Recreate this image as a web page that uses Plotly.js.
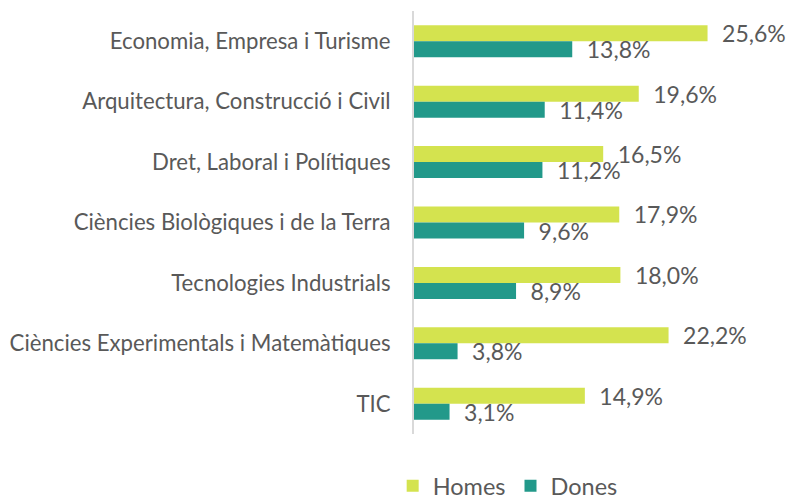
<!DOCTYPE html>
<html>
<head>
<meta charset="utf-8">
<script src="https://cdn.plot.ly/plotly-3.0.1.min.js"></script>
<style>html,body{margin:0;padding:0;background:#fff;}#chart{width:787px;height:499px;}</style>
</head>
<body>
<div id="chart"></div>
<script>
var categories = [
  "Economia, Empresa i Turisme",
  "Arquitectura, Construcció i Civil",
  "Dret, Laboral i Polítiques",
  "Ciències Biològiques i de la Terra",
  "Tecnologies Industrials",
  "Ciències Experimentals i Matemàtiques",
  "TIC"
];
var homes = [25.6, 19.6, 16.5, 17.9, 18.0, 22.2, 14.9];
var dones = [13.8, 11.4, 11.2, 9.6, 8.9, 3.8, 3.1];
var seriesNames = ["Homes", "Dones"];

var FONT = "Lato, 'Open Sans', sans-serif";
var TXT = "#595959";

var common = {
  type: "bar",
  orientation: "h",
  y: categories,
  textposition: "outside",
  texttemplate: "\u2002%{x:.1f}%",
  textfont: {family: FONT, size: 23, color: TXT},
  cliponaxis: false,
  constraintext: "none",
  hoverinfo: "none"
};

var traces = [
  Object.assign({}, common, {x: homes, name: seriesNames[0], marker: {color: "#d4e34f"}}),
  Object.assign({}, common, {x: dones, name: seriesNames[1], marker: {color: "#22998a"}})
];

var layout = {
  width: 787,
  height: 499,
  margin: {l: 414, r: 29, t: 11, b: 65, pad: 0, autoexpand: false},
  paper_bgcolor: "#ffffff",
  plot_bgcolor: "#ffffff",
  separators: ",.",
  barmode: "group",
  bargap: 0.47,
  bargroupgap: 0,
  showlegend: true,
  font: {family: FONT, color: TXT, size: 20},
  xaxis: {
    range: [0, 30],
    visible: false,
    fixedrange: true
  },
  yaxis: {
    autorange: "reversed",
    showline: true,
    linecolor: "#d9d9d9",
    linewidth: 2,
    showgrid: false,
    zeroline: false,
    ticks: "",
    ticklabelstandoff: 17,
    tickfont: {family: FONT, size: 22.2, color: TXT},
    fixedrange: true
  },
  legend: {
    orientation: "h",
    x: -0.062,
    xanchor: "left",
    y: -0.123,
    yanchor: "middle",
    font: {family: FONT, size: 23.5, color: TXT},
    itemclick: false,
    itemdoubleclick: false
  }
};

Plotly.newPlot("chart", traces, layout, {displayModeBar: false, staticPlot: true});
</script>
</body>
</html>
